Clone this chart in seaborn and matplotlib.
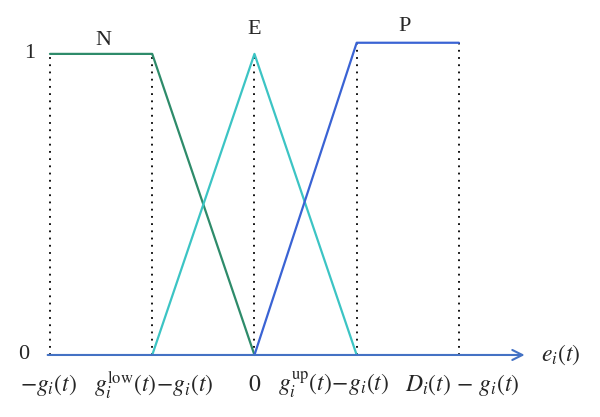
import matplotlib
matplotlib.use('Agg')
import numpy as np
import pandas as pd
import matplotlib.pyplot as plt
import seaborn as sns

# breakpoints on the e_i(t) axis (evenly spaced)
x_points = [0, 1, 2, 3, 4]
x_labels = [r'$-g_i(t)$', r'$g_i^{\mathrm{low}}(t)\!-\!g_i(t)$', '$0$',
            r'$g_i^{\mathrm{up}}(t)\!-\!g_i(t)$', r'$D_i(t)\,-\,g_i(t)$']
# label centres are nudged off the breakpoints, as in the figure
label_shift = [-0.02, 0.02, 0.0, -0.23, 0.03]

# membership functions
n_x = [0, 1, 2]
n_y = [1, 1, 0]
e_x = [1, 2, 3]
e_y = [0, 1, 0]
p_x = [2, 3, 4]
p_y = [0, 1.037, 1.037]

# dotted guide lines: x position and top height
guide_x = [0, 1, 2, 3, 4]
guide_top = [1, 1, 1, 1.037, 1.037]

sns.set_style('white')
plt.rcParams['font.family'] = ['Liberation Serif', 'DejaVu Serif']
plt.rcParams['mathtext.fontset'] = 'stix'

fig = plt.figure(figsize=(6, 4.17), dpi=100)
ax = fig.add_axes([0, 0, 1, 1])

df_n = pd.DataFrame({'x': n_x, 'y': n_y})
df_e = pd.DataFrame({'x': e_x, 'y': e_y})
df_p = pd.DataFrame({'x': p_x, 'y': p_y})

for gx, gt in zip(guide_x, guide_top):
    ax.plot([gx, gx], [0, gt], color='black', ls=(0, (1, 3)), lw=1.3, zorder=1)

sns.lineplot(data=df_n, x='x', y='y', color='#2e8b6a', lw=1.6, ax=ax, sort=False)
sns.lineplot(data=df_e, x='x', y='y', color='#3cc4c4', lw=1.6, ax=ax, sort=False)
sns.lineplot(data=df_p, x='x', y='y', color='#3a63d4', lw=1.6, ax=ax, sort=False)

# horizontal axis with arrow
ax.annotate('', xy=(4.67, 0), xytext=(-0.05, 0),
            arrowprops=dict(arrowstyle='->', color='#4472c4', lw=1.5,
                            mutation_scale=18))
ax.text(4.80, 0, r'$e_i(t)$', fontsize=17, va='center', ha='left')

ax.text(-0.26, 0, '0', fontsize=16, va='center', ha='center')
ax.text(-0.2, 1, '1', fontsize=16, va='center', ha='center')

for xp, sh, lab in zip(x_points, label_shift, x_labels):
    ax.text(xp + sh, -0.1, lab, fontsize=17, va='center', ha='center')

ax.text(0.52, 1.045, 'N', fontsize=16, ha='center', va='center')
ax.text(2.0, 1.08, 'E', fontsize=16, ha='center', va='center')
ax.text(3.47, 1.09, 'P', fontsize=16, ha='center', va='center')

ax.set_xlim(-0.489, 5.38)
ax.set_ylim(-0.206, 1.179)
ax.axis('off')

fig.savefig('out.png', dpi=100)
